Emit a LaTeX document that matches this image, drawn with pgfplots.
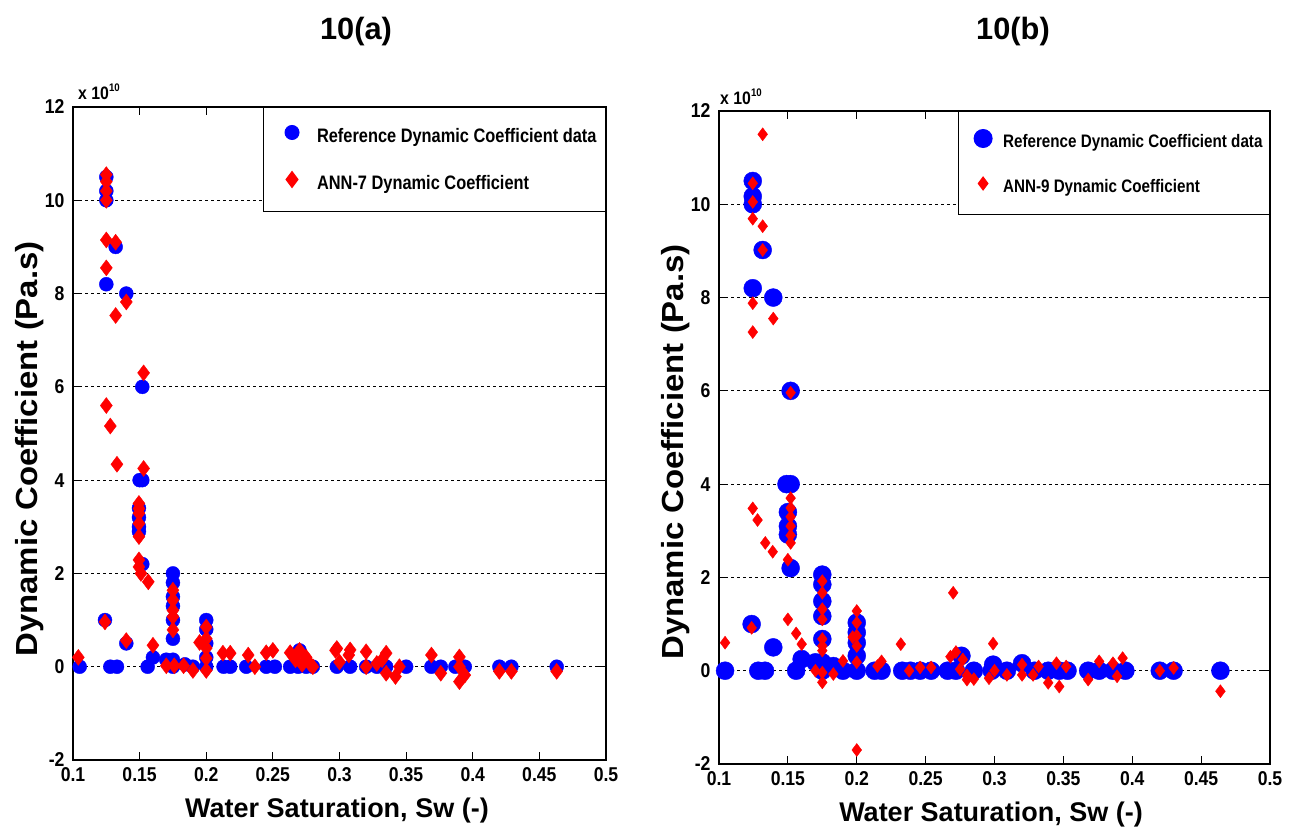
\documentclass[border=0pt]{standalone}
\usepackage{pgfplots}
\pgfplotsset{compat=1.18}
\usepackage{fontspec}
\setmainfont{Liberation Sans}
\newfontfamily\tickfont[FakeStretch=0.88]{Liberation Sans}
\newfontfamily\legfont[FakeStretch=0.84]{Liberation Sans}
\newfontfamily\ylabfont[FakeStretch=1.08]{Liberation Sans}

\pgfplotsset{
  mystyle/.style={
    scale only axis, anchor=south west,
    xmin=0.1, xmax=0.5, ymin=-2, ymax=12,
    xtick={0.1,0.15,0.2,0.25,0.3,0.35,0.4,0.45,0.5},
    xticklabels={0.1,0.15,0.2,0.25,0.3,0.35,0.4,0.45,0.5},
    ytick={-2,0,2,4,6,8,10,12},
    yticklabels={-2,0,2,4,6,8,10,12},
    tick align=inside, major tick length=8pt,
    tick style={black, line width=0.8pt},
    axis line style={black, line width=1.1pt},
    ymajorgrids,
    major grid style={black, line width=0.8pt, dash pattern=on 3pt off 3pt},
    ticklabel style={font=\tickfont\bfseries\fontsize{20}{20}\selectfont},
    xticklabel style={yshift=-4pt},
    yticklabel style={xshift=-5pt},
    clip=false,
    legend cell align=left,
  }
}

\begin{document}
\begin{tikzpicture}
\path[use as bounding box] (0pt,0pt) rectangle (1291pt,835pt);

% ---------------- 10(a) ----------------
\begin{axis}[mystyle, at={(73pt,75pt)}, width=533pt, height=653pt,
  legend style={at={(1,1)}, anchor=north east, draw=black, line width=1pt, fill=white,
    font=\legfont\bfseries\fontsize{19.5}{22}\selectfont,
    inner xsep=9pt, inner ysep=18pt, row sep=25pt,
    nodes={inner sep=0pt, text height=14pt, text depth=4pt},
    /tikz/every odd column/.append style={column sep=18pt}},
  legend image code/.code={\path[draw=none] (-20pt,0pt) (7pt,0pt); \draw[#1] plot coordinates {(0pt,5pt)};},
]
\addplot[only marks, color=blue, mark=*, mark size=7pt, mark options={solid, fill=blue}] coordinates {
(0.105,0) (0.124,1.0) (0.125,8.2) (0.125,10.0) (0.125,10.2) (0.125,10.5)
(0.128,0) (0.133,0) (0.132,9.0) (0.14,8.0) (0.14,0.5)
(0.15,4.0) (0.152,4.0) (0.1495,3.4) (0.1495,3.2) (0.1495,3.0) (0.1495,2.9)
(0.152,2.2) (0.152,6.0) (0.156,0) (0.16,0.2) (0.17,0.15)
(0.175,2.0) (0.175,1.8) (0.175,1.5) (0.175,1.3) (0.175,1.0) (0.175,0.6) (0.175,0.15) (0.175,0)
(0.184,0.05) (0.19,0)
(0.2,1.0) (0.2,0.8) (0.2,0.5) (0.2,0.2) (0.2,0)
(0.213,0) (0.218,0) (0.23,0) (0.245,0) (0.2515,0)
(0.263,0) (0.269,0) (0.27,0.35) (0.275,0) (0.28,0)
(0.298,0) (0.308,0) (0.32,0) (0.328,0) (0.335,0) (0.35,0)
(0.369,0) (0.376,0) (0.387,0) (0.394,0) (0.42,0) (0.429,0) (0.463,0)
};
\addlegendentry{Reference Dynamic Coefficient data}
\addplot[only marks, color=red, mark=diamond*, mark size=8pt, mark options={solid, fill=red}] coordinates {
(0.104,0.2) (0.125,10.55) (0.125,10.4) (0.125,10.2) (0.125,10.0) (0.125,9.15) (0.125,8.55)
(0.132,9.1) (0.14,7.82) (0.132,7.53) (0.153,6.3)
(0.125,5.6) (0.128,5.16) (0.133,4.34) (0.124,0.96) (0.14,0.56) (0.153,4.25)
(0.1495,3.5) (0.1495,3.39) (0.1495,3.29) (0.1495,3.07) (0.1495,2.79)
(0.1495,2.29) (0.1495,2.14) (0.151,2.0) (0.1565,1.82) (0.16,0.46)
(0.175,1.64) (0.175,1.43) (0.175,1.21) (0.175,1.07) (0.175,0.79)
(0.17,0.02) (0.176,0.02) (0.183,0.02) (0.19,-0.08)
(0.2,0.85) (0.2,0.6) (0.2,0.4) (0.2,0.18) (0.2,-0.08) (0.195,0.52)
(0.2125,0.29) (0.218,0.29) (0.2315,0.25) (0.2365,0) (0.245,0.3) (0.25,0.35)
(0.263,0.3) (0.267,0.15) (0.27,0.35) (0.272,0.05) (0.275,0.2) (0.278,0.05) (0.28,0)
(0.297,0.35) (0.298,0.39) (0.3,0.1) (0.307,0.25) (0.308,0.36)
(0.32,0.32) (0.32,0) (0.328,0.07) (0.332,0.15) (0.335,0.29) (0.335,-0.14)
(0.342,-0.21) (0.345,0)
(0.369,0.25) (0.376,-0.14) (0.39,0.21) (0.39,0) (0.39,-0.32) (0.394,-0.18)
(0.42,-0.1) (0.429,-0.1) (0.463,-0.1)
};
\addlegendentry{ANN-7 Dynamic Coefficient}
\node[anchor=base west, inner sep=0pt, font=\tickfont\bfseries\fontsize{18}{18}\selectfont, xshift=5pt, yshift=7pt]
  at (rel axis cs:0,1) {x 10\raisebox{8pt}{\fontsize{11}{11}\selectfont 10}};
\end{axis}

% ---------------- 10(b) ----------------
\begin{axis}[mystyle, at={(719pt,71pt)}, width=551pt, height=653pt,
  legend style={at={(1,1)}, anchor=north east, draw=black, line width=1pt, fill=white,
    font=\legfont\bfseries\fontsize{18.1}{21}\selectfont,
    inner xsep=7pt, inner ysep=18pt, row sep=25pt,
    nodes={inner sep=0pt, text height=13pt, text depth=4pt},
    /tikz/every odd column/.append style={column sep=11pt}},
  legend image code/.code={\path[draw=none] (-18pt,0pt) (9pt,0pt); \draw[#1] plot coordinates {(0pt,5pt)};},
]
\addplot[only marks, color=blue, mark=*, mark size=9pt, mark options={solid, fill=blue}] coordinates {
(0.1044,0) (0.1237,1.0) (0.1245,8.2) (0.1245,10.0) (0.1245,10.17) (0.1245,10.5)
(0.1285,0) (0.1334,0) (0.1317,9.02) (0.1394,8.0) (0.1394,0.5)
(0.149,4.0) (0.152,4.0) (0.15,3.4) (0.15,3.1) (0.15,2.92) (0.152,2.2) (0.152,6.0)
(0.156,0) (0.16,0.25) (0.17,0.18)
(0.175,2.06) (0.175,1.85) (0.175,1.49) (0.175,1.17) (0.175,0.68) (0.175,0.18) (0.175,0)
(0.183,0.1) (0.19,0)
(0.2,1.03) (0.2,0.82) (0.2,0.6) (0.2,0.32) (0.2,0)
(0.213,0) (0.218,0) (0.233,0) (0.239,0) (0.246,0) (0.254,0)
(0.266,0) (0.272,0) (0.276,0.32) (0.285,0)
(0.298,0) (0.299,0.13) (0.309,0) (0.32,0.16) (0.329,0) (0.339,0) (0.347,0) (0.353,0)
(0.368,0) (0.376,0) (0.386,0) (0.395,0) (0.42,0) (0.43,0) (0.464,0)
};
\addlegendentry{Reference Dynamic Coefficient data}
\addplot[only marks, color=red, mark=diamond*, mark size=6.5pt, mark options={solid, fill=red}] coordinates {
(0.1044,0.6) (0.1317,11.5) (0.1245,10.45) (0.1245,10.05) (0.1245,9.69) (0.1317,9.53) (0.1317,9.02)
(0.1245,7.88) (0.1245,7.26) (0.1394,7.55) (0.152,5.96) (0.1237,0.92)
(0.1245,3.48) (0.128,3.23) (0.1336,2.74) (0.139,2.55) (0.15,2.38) (0.15,1.1) (0.156,0.8) (0.16,0.57)
(0.152,3.7) (0.152,3.49) (0.152,3.3) (0.152,3.1) (0.152,2.9) (0.152,2.74)
(0.175,1.92) (0.175,1.67) (0.175,1.32) (0.175,1.1) (0.175,0.68) (0.175,0.53) (0.175,0.43)
(0.17,0) (0.175,-0.04) (0.175,-0.25) (0.183,-0.07) (0.19,0.21)
(0.2,1.28) (0.2,1.03) (0.2,0.75) (0.2,0.53) (0.2,0.18) (0.197,0.72) (0.2,-1.7)
(0.215,0.1) (0.218,0.2) (0.232,0.57) (0.238,0) (0.246,0.07) (0.254,0.07)
(0.27,1.67) (0.268,0.3) (0.272,0.4) (0.275,0.03) (0.28,-0.1) (0.285,-0.18) (0.277,0.24) (0.28,-0.19)
(0.299,0.58) (0.296,-0.16) (0.3,0) (0.309,-0.09) (0.32,0.13) (0.32,-0.09) (0.328,-0.09)
(0.332,0.09) (0.339,-0.26) (0.345,0.16) (0.347,-0.34) (0.352,0.09)
(0.368,-0.19) (0.376,0.2) (0.386,0.16) (0.389,-0.12) (0.393,0.27)
(0.42,0) (0.43,0.06) (0.464,-0.44)
};
\addlegendentry{ANN-9 Dynamic Coefficient}
\node[anchor=base west, inner sep=0pt, font=\tickfont\bfseries\fontsize{18}{18}\selectfont, xshift=1pt, yshift=6pt]
  at (rel axis cs:0,1) {x 10\raisebox{8pt}{\fontsize{11}{11}\selectfont 10}};
\end{axis}

% titles and labels
\node[anchor=base, inner sep=0pt, font=\bfseries\fontsize{30.8}{30.8}\selectfont] at (356pt,795.7pt) {10(a)};
\node[anchor=base, inner sep=0pt, font=\bfseries\fontsize{30.8}{30.8}\selectfont] at (1013pt,795pt) {10(b)};
\node[anchor=base, inner sep=0pt, font=\bfseries\fontsize{27}{27}\selectfont] at (337pt,17pt) {Water Saturation, Sw (-)};
\node[anchor=base, inner sep=0pt, font=\bfseries\fontsize{27}{27}\selectfont] at (991pt,13pt) {Water Saturation, Sw (-)};
\node[anchor=base, rotate=90, inner sep=0pt, font=\ylabfont\bfseries\fontsize{30.5}{30.5}\selectfont] at (37pt,386pt) {Dynamic Coefficient (Pa.s)};
\node[anchor=base, rotate=90, inner sep=0pt, font=\ylabfont\bfseries\fontsize{30.5}{30.5}\selectfont] at (683pt,383pt) {Dynamic Coefficient (Pa.s)};
\end{tikzpicture}
\end{document}
